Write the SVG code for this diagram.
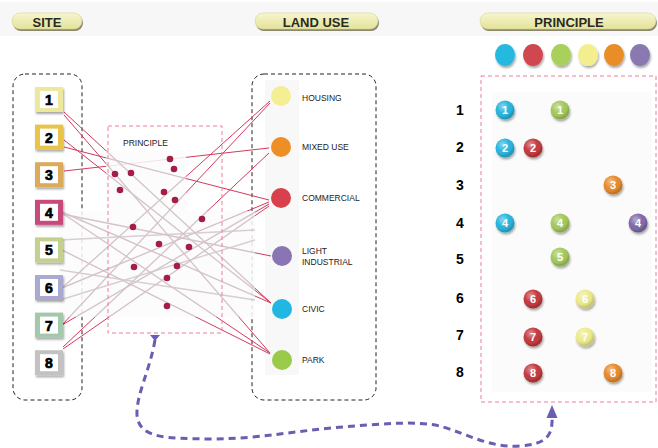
<svg xmlns="http://www.w3.org/2000/svg" width="658" height="448" viewBox="0 0 658 448">
<defs>
<style>
.pill{fill:url(#pg);stroke:#d8d68a;stroke-width:0.6}
.ph{font-family:"Liberation Sans",Arial,sans-serif;font-weight:bold;font-size:13px;fill:#2a2a22;text-anchor:middle}
.dash{fill:none;stroke:#222;stroke-width:1;stroke-dasharray:4 3}
.pdash{fill:none;stroke:#f27d96;stroke-width:1;stroke-dasharray:4 3}
.sd{font-family:"Liberation Sans",Arial,sans-serif;font-weight:bold;font-size:14px;fill:#000;stroke:#000;stroke-width:0.7;text-anchor:middle}
.lu{font-family:"Liberation Sans",Arial,sans-serif;font-size:8.5px;fill:#222}
.rn{font-family:"Liberation Sans",Arial,sans-serif;font-weight:bold;font-size:14px;fill:#000;text-anchor:middle}
.bn{font-family:"Liberation Sans",Arial,sans-serif;font-weight:bold;font-size:11px;fill:#fff;text-anchor:middle}
.ln{stroke:#d23a5c;stroke-width:1;fill:none}
.dot{fill:#a51c44}
.shine{fill:url(#shine)}
</style>
<linearGradient id="pg" x1="0" y1="0" x2="0" y2="1">
<stop offset="0" stop-color="#f7f6cf"/>
<stop offset="1" stop-color="#e4e29a"/>
</linearGradient>
<radialGradient id="shine" cx="0.38" cy="0.32" r="0.6">
<stop offset="0" stop-color="#fff" stop-opacity="0.45"/>
<stop offset="0.6" stop-color="#fff" stop-opacity="0"/>
<stop offset="1" stop-color="#000" stop-opacity="0.15"/>
</radialGradient>
<filter id="sh" x="-50%" y="-50%" width="200%" height="200%">
<feDropShadow dx="1" dy="2" stdDeviation="1.2" flood-color="#000" flood-opacity="0.35"/>
</filter>
<filter id="soft" x="-50%" y="-50%" width="200%" height="200%">
<feGaussianBlur stdDeviation="0.6"/>
</filter>
<clipPath id="fade">
<rect x="58" y="211" width="197" height="106"/>
<rect x="106" y="151" width="80" height="60"/>
</clipPath>
</defs>
<rect width="658" height="448" fill="#fff"/>
<rect x="0" y="2" width="658" height="34" fill="#f7f7f7"/>

<!-- headers -->
<g id="hdr-site"><rect x="13" y="15" width="70" height="16" rx="8" fill="#8a8870" filter="url(#soft)"/><rect class="pill" x="12" y="13" width="70" height="16" rx="8"/><text class="ph" x="47" y="26.5">SITE</text></g>
<g id="hdr-landuse"><rect x="256" y="15" width="123" height="16" rx="8" fill="#8a8870" filter="url(#soft)"/><rect class="pill" x="255" y="13" width="123" height="16" rx="8"/><text class="ph" x="316" y="26.5">LAND USE</text></g>
<g id="hdr-principle"><rect x="481" y="15" width="176" height="16" rx="8" fill="#8a8870" filter="url(#soft)"/><rect class="pill" x="480" y="13" width="176" height="16" rx="8"/><text class="ph" x="569" y="26.5">PRINCIPLE</text></g>

<!-- legend circles -->
<g id="legend" filter="url(#sh)">
<ellipse cx="505" cy="55" rx="10" ry="11" fill="#28b9df"/>
<ellipse cx="533" cy="55" rx="10" ry="11" fill="#d04650"/>
<ellipse cx="561" cy="55" rx="10" ry="11" fill="#a9d05a"/>
<ellipse cx="588" cy="55" rx="10" ry="11" fill="#f3ef8e"/>
<ellipse cx="614" cy="55" rx="10" ry="11" fill="#e98e28"/>
<ellipse cx="640" cy="55" rx="10" ry="11" fill="#8a78b0"/>
</g>

<!-- container boxes -->
<rect id="site-box" class="dash" x="13" y="74" width="69" height="326" rx="12"/>
<rect id="landuse-box" class="dash" x="252" y="74" width="124" height="326" rx="12"/>
<rect x="265" y="80" width="34" height="295" fill="#f8f8f8"/>

<!-- connectors -->
<g id="connectors">
<line class="ln" x1="64" y1="112" x2="271" y2="303"/>
<line class="ln" x1="64" y1="115" x2="270" y2="353"/>
<line class="ln" x1="64" y1="140" x2="271" y2="303"/>
<line class="ln" x1="64" y1="147" x2="269" y2="200"/>
<line class="ln" x1="64" y1="171" x2="269" y2="148"/>
<line class="ln" x1="62" y1="212" x2="271" y2="303"/>
<line class="ln" x1="62" y1="213" x2="270" y2="353"/>
<line class="ln" x1="62" y1="214" x2="271" y2="256"/>
<line class="ln" x1="62" y1="250" x2="270" y2="354"/>
<line class="ln" x1="62" y1="288" x2="269" y2="202"/>
<line class="ln" x1="62" y1="288" x2="270" y2="101"/>
<line class="ln" x1="62" y1="325" x2="269" y2="204"/>
<line class="ln" x1="62" y1="325" x2="270" y2="103"/>
<line class="ln" x1="63" y1="349" x2="269" y2="206"/>
<line class="ln" x1="63" y1="347" x2="269" y2="153"/>
</g>

<!-- faded image area -->
<g id="faded">
<rect x="58" y="211" width="197" height="106" fill="#fbfbfb" opacity="0.86"/>
<rect x="106" y="151" width="80" height="60" fill="#fbfbfb" opacity="0.86"/>
<g clip-path="url(#fade)" stroke="#b9a9b1" stroke-width="1.4" opacity="0.55" fill="none">
<line x1="64" y1="112" x2="271" y2="303"/>
<line x1="64" y1="115" x2="270" y2="353"/>
<line x1="64" y1="140" x2="271" y2="303"/>
<line x1="64" y1="147" x2="269" y2="200"/>
<line x1="62" y1="212" x2="271" y2="303"/>
<line x1="62" y1="213" x2="270" y2="353"/>
<line x1="62" y1="214" x2="271" y2="256"/>
<line x1="62" y1="250" x2="270" y2="354"/>
<line x1="62" y1="288" x2="269" y2="202"/>
<line x1="62" y1="288" x2="270" y2="101"/>
<line x1="62" y1="325" x2="269" y2="204"/>
<line x1="62" y1="325" x2="270" y2="103"/>
<line x1="63" y1="349" x2="269" y2="206"/>
<line x1="63" y1="347" x2="269" y2="153"/>
<line x1="60" y1="240" x2="255" y2="230"/>
<line x1="60" y1="270" x2="255" y2="300"/>
<line x1="60" y1="300" x2="255" y2="240"/>
</g>
</g>

<!-- principle box in middle -->
<g id="principle-mid">
<rect class="pdash" x="108" y="126" width="114" height="207"/>
<text class="lu" x="123" y="146" font-size="8.5">PRINCIPLE</text>
<g class="dot">
<circle cx="170" cy="159" r="3.3"/><circle cx="174" cy="169" r="3.3"/><circle cx="115" cy="174" r="3.3"/><circle cx="131" cy="173" r="3.3"/>
<circle cx="120" cy="190" r="3.3"/><circle cx="164" cy="192" r="3.3"/><circle cx="175" cy="200" r="3.3"/><circle cx="202" cy="219" r="3.3"/>
<circle cx="133" cy="227" r="3.3"/><circle cx="159" cy="244" r="3.3"/><circle cx="189" cy="247" r="3.3"/><circle cx="134" cy="267" r="3.3"/>
<circle cx="177" cy="266" r="3.3"/><circle cx="167" cy="278" r="3.3"/><circle cx="167" cy="306" r="3.3"/>
</g>
</g>

<!-- site nodes -->
<g id="site-1"><rect x="35" y="87" width="28" height="25" fill="#ece99e" filter="url(#sh)"/><rect x="40" y="91" width="18" height="17" fill="#fff"/><text class="sd" x="49" y="105">1</text></g>
<g id="site-2"><rect x="35" y="124.6" width="28" height="25" fill="#e8c44a" filter="url(#sh)"/><rect x="40" y="128.6" width="18" height="17" fill="#fff"/><text class="sd" x="49" y="142.6">2</text></g>
<g id="site-3"><rect x="35" y="162.2" width="28" height="25" fill="#dcab5a" filter="url(#sh)"/><rect x="40" y="166.2" width="18" height="17" fill="#fff"/><text class="sd" x="49" y="180.2">3</text></g>
<g id="site-4"><rect x="35" y="199.8" width="28" height="25" fill="#c8487c" filter="url(#sh)"/><rect x="40" y="203.8" width="18" height="17" fill="#fff"/><text class="sd" x="49" y="217.8">4</text></g>
<g id="site-5"><rect x="35" y="237.4" width="28" height="25" fill="#c4d08e" filter="url(#sh)"/><rect x="40" y="241.4" width="18" height="17" fill="#fff"/><text class="sd" x="49" y="255.4">5</text></g>
<g id="site-6"><rect x="35" y="275" width="28" height="25" fill="#a9a9d2" filter="url(#sh)"/><rect x="40" y="279" width="18" height="17" fill="#fff"/><text class="sd" x="49" y="293">6</text></g>
<g id="site-7"><rect x="35" y="312.6" width="28" height="25" fill="#a4c8ac" filter="url(#sh)"/><rect x="40" y="316.6" width="18" height="17" fill="#fff"/><text class="sd" x="49" y="330.6">7</text></g>
<g id="site-8"><rect x="35" y="350.2" width="28" height="25" fill="#c2c2c2" filter="url(#sh)"/><rect x="40" y="354.2" width="18" height="17" fill="#fff"/><text class="sd" x="49" y="368.2">8</text></g>

<!-- land use nodes -->
<g id="lu-housing"><circle cx="281" cy="96" r="10" fill="#f3ef92" filter="url(#soft)"/><text class="lu" x="302" y="101">HOUSING</text></g>
<g id="lu-mixed"><circle cx="281" cy="147" r="10" fill="#ee8e26" filter="url(#soft)"/><text class="lu" x="302" y="150">MIXED USE</text></g>
<g id="lu-commercial"><circle cx="281" cy="198" r="10" fill="#d8404c" filter="url(#soft)"/><text class="lu" x="302" y="201">COMMERCIAL</text></g>
<g id="lu-light"><circle cx="282" cy="256" r="10" fill="#8a74b4" filter="url(#soft)"/><text class="lu" x="302" y="254">LIGHT</text><text class="lu" x="302" y="265">INDUSTRIAL</text></g>
<g id="lu-civic"><circle cx="282" cy="309" r="10" fill="#22b6e2" filter="url(#soft)"/><text class="lu" x="302" y="312">CIVIC</text></g>
<g id="lu-park"><circle cx="282" cy="360" r="10" fill="#9aca4a" filter="url(#soft)"/><text class="lu" x="302" y="363">PARK</text></g>

<!-- principle matrix -->
<g id="principle-panel">
<rect x="492" y="92" width="160" height="300" fill="#fbfbfb"/>
<rect class="pdash" x="481" y="76" width="175" height="326"/>
<text class="rn" x="460" y="115">1</text>
<text class="rn" x="460" y="152">2</text>
<text class="rn" x="460" y="190">3</text>
<text class="rn" x="460" y="228">4</text>
<text class="rn" x="460" y="264">5</text>
<text class="rn" x="460" y="303">6</text>
<text class="rn" x="460" y="340">7</text>
<text class="rn" x="460" y="377">8</text>
<g filter="url(#sh)">
<circle cx="505" cy="110" r="9.5" fill="#28b4dc"/><circle cx="560" cy="110" r="9.5" fill="#a2c85a"/>
<circle cx="505" cy="148" r="9.5" fill="#28b4dc"/><circle cx="533" cy="148" r="9.5" fill="#c2383e"/>
<circle cx="613" cy="185" r="9.5" fill="#e6892a"/>
<circle cx="505" cy="223" r="9.5" fill="#28b4dc"/><circle cx="560" cy="223" r="9.5" fill="#a2c85a"/><circle cx="638" cy="223" r="9.5" fill="#7e68a8"/>
<circle cx="560" cy="257" r="9.5" fill="#a2c85a"/>
<circle cx="533" cy="299" r="9.5" fill="#c2383e"/><circle cx="585" cy="299" r="9.5" fill="#ecea8a"/>
<circle cx="533" cy="337" r="9.5" fill="#c2383e"/><circle cx="585" cy="337" r="9.5" fill="#ecea8a"/>
<circle cx="533" cy="373" r="9.5" fill="#c2383e"/><circle cx="613" cy="373" r="9.5" fill="#e6892a"/>
</g>
<g>
<circle class="shine" cx="505" cy="110" r="9.5"/><circle class="shine" cx="560" cy="110" r="9.5"/>
<circle class="shine" cx="505" cy="148" r="9.5"/><circle class="shine" cx="533" cy="148" r="9.5"/>
<circle class="shine" cx="613" cy="185" r="9.5"/>
<circle class="shine" cx="505" cy="223" r="9.5"/><circle class="shine" cx="560" cy="223" r="9.5"/><circle class="shine" cx="638" cy="223" r="9.5"/>
<circle class="shine" cx="560" cy="257" r="9.5"/>
<circle class="shine" cx="533" cy="299" r="9.5"/><circle class="shine" cx="585" cy="299" r="9.5"/>
<circle class="shine" cx="533" cy="337" r="9.5"/><circle class="shine" cx="585" cy="337" r="9.5"/>
<circle class="shine" cx="533" cy="373" r="9.5"/><circle class="shine" cx="613" cy="373" r="9.5"/>
</g>
<text class="bn" x="505" y="114">1</text><text class="bn" x="560" y="114">1</text>
<text class="bn" x="505" y="152">2</text><text class="bn" x="533" y="152">2</text>
<text class="bn" x="613" y="189">3</text>
<text class="bn" x="505" y="227">4</text><text class="bn" x="560" y="227">4</text><text class="bn" x="638" y="227">4</text>
<text class="bn" x="560" y="261">5</text>
<text class="bn" x="533" y="303">6</text><text class="bn" x="585" y="303">6</text>
<text class="bn" x="533" y="341">7</text><text class="bn" x="585" y="341">7</text>
<text class="bn" x="533" y="377">8</text><text class="bn" x="613" y="377">8</text>
</g>

<!-- dashed feedback arrow -->
<g id="feedback-arrow">
<path d="M155,340 C150,370 136,395 137,415 C139,440 170,438 210,439 C260,439 300,430 343,427 C380,424 420,420 443,427 C470,435 490,448 520,446 C548,444 553,435 552,415" fill="none" stroke="#6a5db2" stroke-width="3" stroke-dasharray="7 5"/>
<polygon points="150,335 160,335 155,341" fill="#6a5db2"/>
<polygon points="552,405 546.5,418 557.5,418" fill="#6a5db2"/>
</g>
</svg>
